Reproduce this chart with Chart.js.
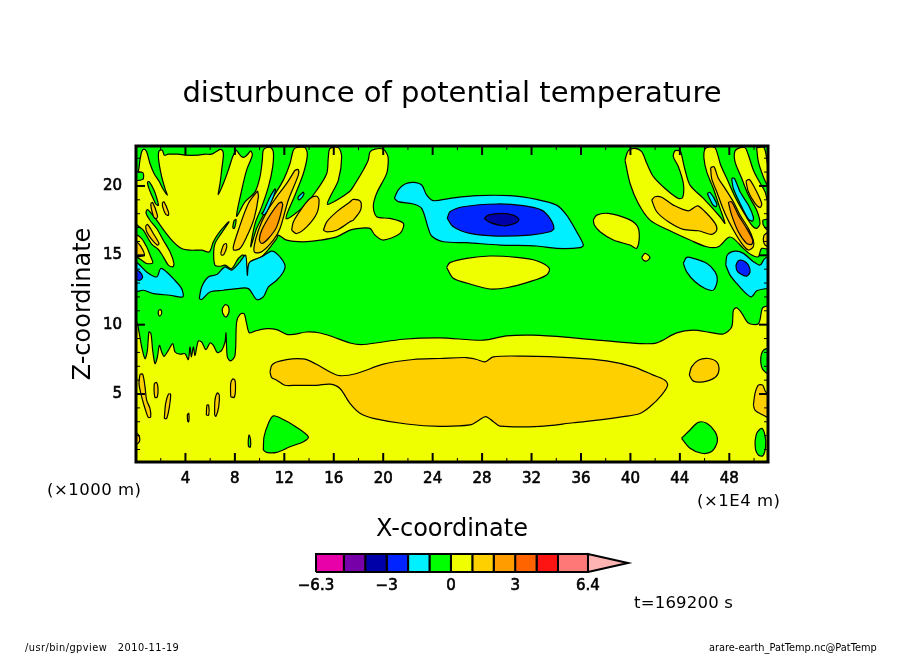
<!DOCTYPE html>
<html>
<head>
  <title>disturbunce of potential temperature</title>
  <script src="https://cdnjs.cloudflare.com/ajax/libs/Chart.js/4.4.1/chart.umd.min.js"></script>
  <style>
    body { margin: 0; background: #fff; }
    #page { position: relative; width: 904px; height: 654px; overflow: hidden; }
    #main { position: absolute; left: 0; top: 0; }
    #bar { position: absolute; left: 0; top: 540px; }
    .note { position: absolute; white-space: pre; font-family: "DejaVu Sans"; color: #000; line-height: 1; }
  </style>
</head>
<body>
<div id="page">
  <canvas id="main" width="904" height="654"></canvas>
  <canvas id="bar" width="904" height="60"></canvas>
  <div class="note" style="left:47px;top:482px;font-size:16.5px;letter-spacing:.5px">(×1000 m)</div>
  <div class="note" style="left:697px;top:493px;font-size:16.5px;letter-spacing:.5px">(×1E4 m)</div>
  <div class="note" style="left:634px;top:595px;font-size:16.5px;letter-spacing:.2px">t=169200 s</div>
  <div class="note" style="left:25px;top:643px;font-size:9.8px;letter-spacing:.45px">/usr/bin/gpview   2010-11-19</div>
  <div class="note" style="left:709px;top:643px;font-size:9.8px">arare-earth_PatTemp.nc@PatTemp</div>
</div>
<script>
// tick values and labels
var xTicks = [4, 8, 12, 16, 20, 24, 28, 32, 36, 40, 44, 48];
var xMinorTicks = [2, 6, 10, 14, 18, 22, 26, 30, 34, 38, 42, 46, 50];
var yTicks = [5, 10, 15, 20];
var yMinorTicks = [1, 2, 3, 4, 6, 7, 8, 9, 11, 12, 13, 14, 16, 17, 18, 19, 21, 22];
var barTicks = [-6.3, -3, 0, 3, 6.4];
var barTickLabels = ['\u22126.3', '\u22123', '0', '3', '6.4'];

// colour levels of the shading
var barLevels = [-6.3, -5, -4, -3, -2, -1, 0, 1, 2, 3, 4, 5, 6.4];
var barColors = ['#e800a8', '#7800a8', '#0000a8', '#0024ff', '#00f0ff', '#00ff00', '#f0ff00', '#ffd000', '#ff9c00', '#ff6400', '#ff1414', '#ff7878'];
var barTip = [[6.4, 0], [8.27, 0.5], [6.4, 1]];

// contours, [x, z] in the axis units
var wholeField = [[-1, -1], [53, -1], [53, 24], [-1, 24]];

var yellowLower = [[-0.5, 10.31], [0, 10.31], [0.27, 9.35], [0.46, 8.39], [0.73, 7.55], [0.92, 8.15], [1.05, 9.47], [1.21, 9.35], [1.35, 8.15], [1.54, 7.19], [1.73, 7.67], [1.89, 8.51], [2.08, 8.03], [2.27, 7.72], [2.62, 8.15], [2.97, 8.63], [3.16, 8.03], [3.56, 7.87], [3.96, 7.91], [4.23, 7.48], [4.37, 8.39], [4.48, 7.67], [4.64, 8.39], [4.77, 7.79], [5.04, 8.82], [5.31, 8.75], [5.66, 8.2], [5.99, 8.68], [6.26, 8.51], [6.58, 7.99], [6.93, 8.15], [7.2, 8.75], [7.28, 9.4], [7.39, 7.67], [7.66, 7.39], [8.01, 7.79], [8.14, 10.19], [8.41, 10.74], [8.74, 10.79], [8.95, 10.07], [9.17, 9.42], [9.63, 9.54], [10.57, 9.71], [11.38, 9.64], [12.19, 9.3], [12.73, 9.3], [13.81, 9.47], [14.89, 9.4], [15.97, 9.11], [17.31, 8.68], [18.39, 8.57], [21.62, 8.95], [24.59, 9.05], [28.1, 8.88], [29.98, 9.19], [32.14, 9.24], [35.38, 9.05], [38.08, 8.83], [40.77, 8.64], [42.12, 8.69], [43.74, 9.41], [45.09, 9.6], [46.4, 9.45], [47.52, 9.33], [48.19, 9.83], [48.33, 11.03], [48.6, 11.22], [49, 10.84], [49.54, 10.12], [50.35, 10.07], [50.62, 11.03], [50.75, 11.27], [51.5, 11.27], [51.5, -0.5], [-0.5, -0.5]];
var yellowUpperLeft = [[-0.5, 21.02], [0, 21.02], [0.19, 21.09], [0.32, 21.86], [0.46, 22.46], [0.65, 22.65], [0.86, 22.46], [1.13, 21.62], [1.46, 20.9], [1.89, 20.3], [2.21, 19.74], [2.54, 19.33], [2.35, 19.81], [2.08, 20.66], [1.89, 21.5], [1.81, 22.1], [1.86, 22.51], [2.13, 22.58], [2.29, 22.22], [2.62, 22.29], [3.43, 22.29], [3.96, 22.22], [5.04, 22.22], [5.58, 22.29], [6.12, 22.29], [6.47, 22.46], [6.8, 22.63], [7.01, 22.53], [7.07, 22.22], [6.93, 21.14], [6.8, 20.18], [6.66, 19.38], [7.07, 20.18], [7.47, 21.14], [7.82, 22.1], [8.09, 22.58], [8.28, 22.39], [8.55, 22.1], [8.82, 22.1], [9.09, 22.34], [9.28, 22.53], [9.41, 22.22], [8.95, 21.14], [8.55, 19.69], [8.14, 17.82], [8.82, 18.85], [9.63, 19.57], [10.03, 20.66], [10.22, 21.86], [10.3, 22.58], [10.57, 22.77], [10.9, 22.77], [11.11, 22.46], [11.06, 21.38], [10.71, 19.93], [10.17, 18.49], [9.63, 17.29], [9.28, 15.61], [9.76, 16.93], [10.3, 17.89], [11.11, 19.21], [11.92, 20.42], [12.46, 21.62], [12.73, 22.58], [13, 22.77], [13.67, 22.77], [13.86, 22.22], [13.54, 20.9], [12.86, 19.33], [12.14, 17.65], [13.54, 18.49], [14.62, 19.69], [15.43, 20.9], [15.56, 22.1], [15.7, 22.7], [16.37, 22.77], [16.64, 22.1], [16.37, 20.42], [15.7, 19.21], [15.48, 18.68], [16.23, 18.97], [17.31, 19.62], [17.58, 19.95], [18.39, 21.15], [18.79, 21.87], [18.93, 22.45], [19.34, 22.66], [19.98, 22.66], [20.31, 22.3], [20.41, 21.87], [20.28, 20.91], [19.47, 19.47], [19.2, 18.52], [19.47, 17.78], [20.55, 17.66], [21.63, 17.3], [21.36, 16.58], [20.01, 16.1], [19.33, 16.46], [18.93, 16.94], [18.12, 16.94], [17.31, 16.82], [16.23, 16.33], [14.89, 16.09], [13.54, 15.97], [12.19, 16.09], [11.52, 16.45], [11.38, 16.21], [10.3, 15.01], [9.36, 14.53], [9.17, 14.41], [9.01, 13.56], [8.9, 13.68], [8.68, 15.01], [8.28, 14.77], [7.74, 14.05], [7.2, 14.29], [6.8, 14.21], [6.39, 14.29], [6.28, 15.13], [6.39, 15.85], [6.8, 16.45], [7.52, 17.41], [7.34, 17.29], [6.66, 16.57], [6.26, 15.97], [5.93, 15.25], [5.31, 15.37], [4.37, 15.37], [3.69, 15.49], [3.02, 15.97], [2.35, 16.69], [1.67, 17.53], [1.13, 18.13], [0.92, 18.3], [0.81, 18.06], [1.13, 17.53], [1.67, 16.93], [2.21, 16.09], [2.75, 15.25], [3.07, 14.41], [2.97, 14.17], [2.62, 14.29], [2.21, 14.89], [1.81, 15.42], [1.27, 15.8], [0.59, 16.81], [0.11, 17.17], [0, 17.29], [-0.5, 17.29]];
var yellowLeftEdge = [[-0.5, 16.5], [0, 16.5], [0.46, 16.21], [0.86, 15.61], [1.19, 14.89], [1.35, 14.45], [0.86, 14.41], [0.46, 14.65], [0, 14.89], [-0.5, 14.89]];
var yellowUpperRight = [[39.56, 21.87], [39.83, 22.54], [40.37, 22.71], [40.91, 22.47], [41.32, 21.63], [41.86, 20.67], [42.8, 19.82], [43.88, 19.1], [44.23, 19.18], [44.28, 20.18], [43.88, 21.39], [43.47, 22.11], [43.61, 22.54], [43.96, 22.54], [44.07, 22.47], [44.42, 21.15], [44.82, 20.06], [45.9, 19.1], [47.25, 17.78], [47.65, 17.3], [47.25, 18.38], [46.71, 19.82], [46.17, 21.03], [45.95, 21.99], [46.03, 22.66], [46.44, 22.83], [46.84, 22.76], [47.03, 22.35], [47.3, 21.51], [47.79, 20.55], [48.46, 19.22], [49.13, 18.14], [49.81, 17.18], [50.21, 16.94], [50.48, 17.3], [50.21, 18.26], [49.54, 19.34], [49, 20.55], [48.46, 21.75], [48.46, 22.52], [48.87, 22.76], [49.27, 22.76], [49.54, 22.23], [49.94, 21.15], [50.35, 20.43], [50.89, 19.58], [51.1, 18.98], [51.5, 18.98], [51.5, 15.43], [50.62, 15.5], [50.35, 14.9], [49.81, 15.02], [49.14, 15.5], [48.33, 16.22], [47.92, 16.29], [47.11, 15.62], [46.17, 15.62], [44.82, 16.1], [43.07, 16.82], [41.59, 17.54], [40.64, 18.74], [39.97, 20.18]];
var yellowFarRight = [[50.21, 22.76], [50.35, 21.75], [50.75, 20.67], [51.1, 20.07], [51.5, 20.07], [51.1, 21.51], [50.81, 22.76]];
var yellowMiddle = [[25.13, 14.13], [25.4, 14.47], [26.75, 14.78], [28.64, 14.95], [30.79, 14.85], [32.41, 14.61], [33.44, 14.06], [33.22, 13.58], [31.87, 13.1], [29.98, 12.66], [28.64, 12.57], [27.02, 12.93], [25.67, 13.34]];
var yellowBlob = [[37, 17.54], [37.27, 17.9], [38.21, 18.02], [39.69, 17.66], [40.5, 17.18], [40.72, 16.46], [40.5, 15.5], [39.96, 15.74], [38.62, 16.1], [37.54, 16.7], [37.08, 17.18]];
var yellowDot = [[40.91, 14.85], [41.18, 15.14], [41.58, 14.85], [41.31, 14.59], [41.04, 14.66]];
var yellowSpotA = [[1.81, 11.03], [2, 11.08], [2.08, 10.84], [1.94, 10.62], [1.81, 10.74]];
var yellowSpotB = [[6.98, 11.15], [7.2, 11.44], [7.47, 11.32], [7.52, 10.91], [7.28, 10.55], [7.01, 10.84]];

var greenStripLeft = [[0.92, 20.3], [1.08, 20.3], [1.46, 19.69], [1.73, 18.97], [1.81, 18.61], [1.62, 18.68], [1.27, 19.33], [1, 19.93]];
var greenBoxLeft = [[-0.5, 20.97], [0.54, 20.97], [0.54, 20.46], [-0.5, 20.46]];
var greenSliver = [[7.82, 17], [7.93, 17.48], [8.09, 17.58], [8.04, 17.17], [7.93, 16.93]];
var greenLowerA = [[10.3, 0.96], [10.36, 1.92], [10.71, 2.88], [11.11, 3.43], [11.92, 3.16], [12.86, 2.68], [13.94, 1.92], [13.54, 1.56], [12.46, 1.2], [11.38, 0.79], [10.57, 0.79]];
var greenLowerB = [[9.1, 1.2], [9.08, 1.6], [9.15, 2.04], [9.27, 1.7], [9.25, 1.18]];
var greenLowerC = [[44.14, 1.81], [44.82, 2.41], [45.49, 2.96], [46.17, 2.89], [46.84, 2.29], [47.03, 1.57], [46.57, 0.85], [45.76, 0.73], [44.82, 1.09]];
var greenLowerD = [[50.08, 1.57], [50.22, 2.17], [50.62, 2.53], [50.88, 2.05], [50.94, 1.21], [50.7, 0.54], [50.35, 0.61], [50.13, 0.97]];
var greenEdgeA = [[51.5, 8.39], [50.75, 8.15], [50.54, 7.43], [50.75, 6.72], [51.5, 6.36]];
var greenEdgeB = [[50.7, 17.54], [51.1, 17.61], [51.5, 17.61], [51.5, 16.89], [51.1, 16.82], [50.75, 17.18]];

var goldBig = [[10.84, 6.59], [10.98, 7.07], [11.38, 7.31], [12.19, 7.48], [13, 7.55], [13.81, 7.48], [14.89, 7], [15.7, 6.59], [16.5, 6.32], [17.85, 6.48], [20.01, 7.15], [22.43, 7.49], [24.59, 7.56], [26.75, 7.63], [27.56, 7.49], [28.23, 7.32], [28.91, 7.68], [31.33, 7.73], [35.38, 7.61], [38.08, 7.39], [40.23, 6.96], [41.85, 6.36], [42.79, 6], [43.01, 5.64], [42.52, 4.92], [41.58, 4.08], [40.77, 3.6], [39.42, 3.37], [37.54, 3.13], [35.38, 2.93], [32.68, 2.67], [29.45, 2.69], [28.91, 3.01], [28.29, 3.37], [27.69, 3.08], [27.02, 2.77], [24.59, 2.67], [21.89, 2.84], [19.2, 3.25], [18.12, 3.61], [17.31, 4.32], [16.5, 5.4], [15.7, 5.71], [14.62, 5.63], [13, 5.63], [12.05, 5.63], [11.38, 6], [10.98, 6.19]];
var goldRightBlob = [[44.76, 6.36], [44.95, 6.96], [45.49, 7.44], [46.3, 7.56], [46.97, 7.32], [47.16, 6.72], [46.84, 6.19], [45.89, 5.88], [45.09, 5.93]];
var goldRightEdge = [[49.95, 4.2], [50.08, 5.04], [50.35, 5.64], [50.7, 5.64], [50.94, 5.16], [51.5, 4.92], [51.5, 3.24], [50.48, 3.6], [50.08, 3.84]];
var goldLowA = [[0.32, 6.43], [0.54, 6.43], [0.73, 5.52], [0.86, 4.56], [1.13, 3.96], [1.19, 3.36], [1, 3.31], [0.73, 3.96], [0.46, 4.8], [0.24, 5.75]];
var goldLowB = [[1.48, 5.75], [1.67, 5.83], [1.78, 5.39], [1.73, 4.8], [1.54, 4.75], [1.46, 5.27]];
var goldLowC = [[2.29, 3.24], [2.4, 4.32], [2.62, 4.99], [2.8, 4.99], [2.7, 4.08], [2.48, 3.24]];
var goldLowD = [[4.15, 3.5], [4.27, 3.6], [4.27, 3], [4.18, 3.05]];
var goldLowE = [[5.69, 3.48], [5.74, 4.2], [5.88, 4.2], [5.88, 3.48]];
var goldLowF = [[6.36, 3.48], [6.39, 4.56], [6.58, 5.08], [6.74, 4.92], [6.69, 4.08], [6.47, 3.4]];
var goldLowG = [[7.66, 4.8], [7.66, 5.75], [7.82, 6.09], [8.01, 5.99], [8.04, 5.16], [7.93, 4.75]];
var goldLowH = [[-0.5, 2.2], [0, 2.2], [0.27, 1.92], [0.27, 1.56], [0, 1.37], [-0.5, 1.37]];
var goldEdgeLeft = [[-0.5, 15.97], [0, 15.97], [0.38, 15.66], [0.65, 15], [-0.5, 15]];
var goldSliverA = [[1.19, 18.73], [1.35, 18.8], [1.73, 17.89], [1.67, 17.65], [1.46, 17.72], [1.24, 18.37]];
var goldSliverB = [[2.13, 18.8], [2.27, 18.85], [2.62, 18.13], [2.62, 17.89], [2.4, 17.96], [2.16, 18.49]];
var goldSliverC = [[0.78, 17.1], [0.94, 17.22], [1.4, 16.57], [1.86, 15.85], [1.73, 15.73], [1.27, 16.14], [0.86, 16.69]];
var goldSliverD = [[6.85, 15.13], [7.07, 15.73], [7.28, 15.85], [7.34, 15.61], [7.12, 15.08], [6.93, 15.01]];
var goldBandA = [[9.84, 19.65], [9.9, 19.21], [9.55, 17.65], [8.95, 16.33], [8.41, 15.49], [7.93, 15.37], [7.87, 15.61], [8.28, 16.81], [9.09, 18.73]];
var goldBandB = [[12.86, 21.14], [12.19, 20.18], [11.38, 19.21], [10.57, 18.13], [9.9, 16.81], [9.55, 15.61], [9.63, 15.2], [10.17, 15.25], [11.11, 16.09], [11.65, 16.93], [12.32, 18.97], [13.13, 20.78], [13.13, 21.18]];
var goldBlobA = [[12.59, 16.81], [12.73, 17.41], [13.4, 18.37], [14.08, 19.09], [14.62, 19.26], [14.81, 18.97], [14.62, 18.01], [13.81, 17.05], [13, 16.57]];
var goldBlobB = [[15.16, 16.81], [15.43, 17.41], [16.23, 18.13], [17.31, 18.85], [17.58, 19.03], [18.17, 18.87], [18.17, 18.26], [17.58, 17.54], [17.31, 17.42], [16.23, 16.81], [15.43, 16.69]];
var goldUpperRight = [[41.72, 18.98], [41.99, 19.22], [42.53, 19.18], [43.47, 18.62], [44.69, 18.21], [45.42, 18.57], [46.04, 18.14], [46.85, 17.3], [46.98, 16.82], [46.58, 16.51], [45.5, 16.77], [44.28, 16.87], [43.07, 17.42], [42.13, 18.14]];
var goldBandC = [[46.49, 21.32], [46.76, 21.39], [47.11, 20.55], [47.65, 19.83], [48.33, 18.86], [48.87, 17.9], [49.54, 16.94], [49.94, 16.1], [49.94, 15.62], [49.54, 15.38], [49, 15.86], [48.33, 16.82], [47.65, 18.02], [46.98, 19.58], [46.57, 20.55]];
var goldBandD = [[49.35, 20.35], [49.62, 20.47], [50.08, 19.82], [50.62, 18.74], [50.48, 18.45], [50.08, 18.74], [49.54, 19.58]];
var goldEdgeRight = [[50.81, 16.46], [51.1, 16.63], [51.5, 16.63], [51.5, 15.55], [50.89, 15.74], [50.75, 16.1]];

var orangeLeft = [[11.79, 18.85], [11.87, 18.61], [11.38, 17.05], [10.71, 16.21], [10.17, 15.85], [9.98, 16.14], [10.17, 16.81], [10.84, 17.89], [11.52, 18.73]];
var orangeRight = [[47.92, 18.82], [48.19, 18.86], [48.73, 17.9], [49.4, 16.94], [49.89, 16.1], [49.81, 15.79], [49.4, 15.86], [48.73, 16.7], [48.19, 17.9]];

var cyanLeft = [[-0.5, 14.53], [0, 14.53], [0.86, 13.8], [1.67, 13.44], [2, 14.05], [2.48, 13.8], [3.02, 13.32], [3.69, 12.6], [3.78, 12], [2.75, 12.12], [1.4, 12.24], [0.59, 12.48], [0, 12.36], [-0.5, 12.36]];
var cyanSecond = [[5.12, 11.88], [5.31, 12.72], [5.85, 13.44], [6.53, 13.61], [7.2, 14.17], [7.74, 13.93], [8.41, 14.53], [8.87, 15.01], [9.01, 13.56], [9.17, 14.48], [10.17, 14.89], [10.98, 15.3], [11.52, 15.01], [12.05, 14.29], [11.92, 13.8], [11.38, 13.2], [10.71, 12.72], [10.3, 12], [9.76, 11.81], [9.09, 12.6], [8.14, 12.6], [7.07, 12.48], [5.99, 12.36], [5.31, 11.81]];
var cyanSliverA = [[11.25, 19.81], [10.84, 19.21], [10.3, 18.13], [10.17, 18.01], [10.44, 17.96], [10.84, 18.61], [11.3, 19.69]];
var cyanSliverB = [[13.54, 19.57], [13.13, 19.21], [13.13, 19.02], [13.27, 19.02], [13.59, 19.41]];
var cyanCentre = [[20.9, 19.11], [21.22, 19.71], [21.76, 20.14], [22.43, 20.26], [23.11, 20.07], [23.51, 19.35], [24.05, 18.94], [25.4, 19.11], [27.56, 19.3], [30.26, 19.3], [32.41, 19.03], [34.03, 18.62], [34.84, 17.9], [35.65, 16.7], [36.19, 15.74], [35.92, 15.55], [34.03, 15.5], [32.41, 15.67], [29.45, 15.74], [26.75, 15.91], [24.86, 15.98], [23.92, 16.39], [23.65, 16.94], [23.11, 18.38], [22.43, 18.7], [21.22, 18.87]];
var cyanRightA = [[44.28, 14.42], [44.55, 14.85], [45.09, 14.78], [46.17, 14.42], [46.85, 13.81], [47.03, 13.21], [46.71, 12.49], [46.04, 12.61], [45.23, 13.09], [44.55, 13.81]];
var cyanRightB = [[47.71, 14.3], [47.84, 15.02], [48.46, 15.3], [49.14, 15.14], [49.95, 14.54], [50.49, 14.3], [50.81, 14.7], [51.08, 14.9], [51.5, 14.9], [51.5, 12.7], [51.03, 12.61], [50.22, 12.44], [49.81, 12.01], [49.41, 12.2], [48.6, 12.97], [48.06, 13.57]];
var cyanSliverC = [[48.19, 20.55], [48.41, 20.55], [48.87, 19.58], [49.54, 18.62], [49.94, 17.78], [49.89, 17.47], [49.54, 17.61], [48.87, 18.74], [48.33, 19.82]];
var cyanSliverD = [[46.22, 19.46], [46.44, 19.54], [46.98, 18.74], [46.92, 18.5], [46.65, 18.67]];

var blueLeft = [[-0.5, 13.93], [0, 13.93], [0.32, 13.8], [0.54, 13.44], [0.32, 13.2], [0, 13.25], [-0.5, 13.25]];
var blueCentre = [[25.18, 17.66], [25.4, 18.14], [26.48, 18.5], [29.18, 18.7], [31.33, 18.58], [32.82, 18.26], [33.49, 17.66], [33.81, 16.94], [33.49, 16.7], [31.87, 16.46], [29.18, 16.39], [27.02, 16.58], [25.67, 17.06]];
var blueRight = [[48.54, 14.3], [48.73, 14.61], [49.14, 14.61], [49.54, 14.3], [49.68, 13.81], [49.41, 13.5], [48.92, 13.65], [48.6, 13.93]];
var navyCentre = [[28.18, 17.66], [28.5, 17.9], [29.58, 18.02], [30.52, 17.9], [30.98, 17.59], [30.66, 17.3], [29.72, 17.13], [28.64, 17.37]];

var greenColor = barColors[5], yellowColor = barColors[6], goldColor = barColors[7], orangeColor = barColors[8];
var cyanColor = barColors[4], blueColor = barColors[3], navyColor = barColors[2];

// painted in this order, later ones on top
var contourLayers = [
  [greenColor, [wholeField]],
  [yellowColor, [yellowLower, yellowUpperLeft, yellowLeftEdge, yellowUpperRight, yellowFarRight, yellowMiddle, yellowBlob, yellowDot, yellowSpotA, yellowSpotB]],
  [greenColor, [greenStripLeft, greenBoxLeft, greenSliver, greenLowerA, greenLowerB, greenLowerC, greenLowerD, greenEdgeA, greenEdgeB]],
  [goldColor, [goldBig, goldRightBlob, goldRightEdge, goldLowA, goldLowB, goldLowC, goldLowD, goldLowE, goldLowF, goldLowG, goldLowH, goldEdgeLeft, goldSliverA, goldSliverB, goldSliverC, goldSliverD, goldBandA, goldBandB, goldBlobA, goldBlobB, goldUpperRight, goldBandC, goldBandD, goldEdgeRight]],
  [orangeColor, [orangeLeft, orangeRight]],
  [cyanColor, [cyanLeft, cyanSecond, cyanSliverA, cyanSliverB, cyanCentre, cyanRightA, cyanRightB, cyanSliverC, cyanSliverD]],
  [blueColor, [blueLeft, blueCentre, blueRight]],
  [navyColor, [navyCentre]]
];

function polygonDataset(points, color, lineWidth, curve) {
  var closed = points.concat([points[0]]);
  return {
    data: closed.map(function (p) { return { x: p[0], y: p[1] }; }),
    showLine: true,
    fill: 'shape',
    backgroundColor: color,
    borderColor: '#000',
    borderWidth: lineWidth,
    pointRadius: 0,
    tension: curve
  };
}

var fieldDatasets = [];
contourLayers.forEach(function (layer) {
  layer[1].forEach(function (points) {
    fieldDatasets.push(polygonDataset(points, layer[0], 1.2, points === wholeField ? 0 : 0.3));
  });
});
// chart.js paints the first dataset last
fieldDatasets.reverse();

// inward ticks on all sides and the frame, after the shading
var frameTicks = {
  id: 'frameTicks',
  afterDatasetsDraw: function (chart) {
    var ctx = chart.ctx, area = chart.chartArea;
    var sx = chart.scales.x, sy = chart.scales.y;
    function tick(x1, y1, x2, y2, w) {
      ctx.lineWidth = w;
      ctx.beginPath();
      ctx.moveTo(x1, y1);
      ctx.lineTo(x2, y2);
      ctx.stroke();
    }
    ctx.save();
    ctx.strokeStyle = '#000';
    xMinorTicks.forEach(function (v) {
      var p = sx.getPixelForValue(v);
      tick(p, area.bottom, p, area.bottom - 4, 1);
      tick(p, area.top, p, area.top + 4, 1);
    });
    xTicks.forEach(function (v) {
      var p = sx.getPixelForValue(v);
      tick(p, area.bottom, p, area.bottom - 9, 2);
      tick(p, area.top, p, area.top + 9, 2);
    });
    yMinorTicks.forEach(function (v) {
      var p = sy.getPixelForValue(v);
      tick(area.left, p, area.left + 4, p, 1);
      tick(area.right, p, area.right - 4, p, 1);
    });
    yTicks.forEach(function (v) {
      var p = sy.getPixelForValue(v);
      tick(area.left, p, area.left + 9, p, 2);
      tick(area.right, p, area.right - 9, p, 2);
    });
    ctx.lineWidth = 3;
    ctx.strokeRect(area.left, area.top, area.right - area.left, area.bottom - area.top);
    ctx.restore();
  }
};

// tick labels in the heavy look of the original
var tickFont = { family: 'DejaVu Sans', size: 15 };

new Chart(document.getElementById('main'), {
  type: 'scatter',
  data: { datasets: fieldDatasets },
  plugins: [frameTicks],
  options: {
    responsive: false,
    animation: false,
    events: [],
    layout: { padding: { left: 0, top: 0, right: 0, bottom: 110 } },
    plugins: {
      legend: { display: false },
      tooltip: { enabled: false },
      title: {
        display: true,
        text: 'disturbunce of potential temperature',
        color: '#000',
        font: { family: 'DejaVu Sans', size: 29, weight: 'normal', lineHeight: 1 },
        padding: { top: 80, bottom: 37 }
      }
    },
    scales: {
      x: {
        type: 'linear',
        min: 0,
        max: 51.13,
        grid: { display: false, drawTicks: false },
        border: { display: false },
        afterBuildTicks: function (scale) {
          scale.ticks = xTicks.map(function (v) { return { value: v }; });
        },
        afterFit: function (scale) { scale.height = 82; },
        ticks: { autoSkip: false, maxRotation: 0, padding: 8, color: '#000', textStrokeColor: '#000', textStrokeWidth: 0.6, font: tickFont },
        title: { display: true, text: 'X-coordinate', color: '#000', font: { family: 'DejaVu Sans', size: 24, weight: 'normal' }, padding: { top: 0, bottom: 0 } }
      },
      y: {
        type: 'linear',
        min: 0.1,
        max: 22.88,
        grid: { display: false, drawTicks: false },
        border: { display: false },
        afterBuildTicks: function (scale) {
          scale.ticks = yTicks.map(function (v) { return { value: v }; });
        },
        afterFit: function (scale) { scale.width = 136; },
        ticks: { autoSkip: false, padding: 14, color: '#000', textStrokeColor: '#000', textStrokeWidth: 0.6, font: tickFont },
        title: { display: true, text: 'Z-coordinate', color: '#000', font: { family: 'DejaVu Sans', size: 24, weight: 'normal' }, padding: { top: 69, bottom: 0 } }
      },
      // empty axis so the title centres over the plot
      rightMargin: {
        type: 'linear',
        position: 'right',
        grid: { display: false, drawTicks: false },
        border: { display: false },
        ticks: { display: false },
        afterFit: function (scale) { scale.width = 136; }
      }
    }
  }
});

// colour bar, one box per level
var barDatasets = [];
barColors.forEach(function (c, i) {
  var lo = barLevels[i], hi = barLevels[i + 1];
  barDatasets.push(polygonDataset([[lo, 0], [hi, 0], [hi, 1], [lo, 1]], c, 2, 0));
});
barDatasets.push(polygonDataset(barTip, '#ffb4b4', 2, 0));

new Chart(document.getElementById('bar'), {
  type: 'scatter',
  data: { datasets: barDatasets },
  options: {
    responsive: false,
    animation: false,
    events: [],
    clip: false,
    layout: { padding: { left: 316, right: 276, top: 14, bottom: 0 } },
    plugins: { legend: { display: false }, tooltip: { enabled: false } },
    scales: {
      x: {
        type: 'linear',
        min: -6.3,
        max: 8.27,
        grid: { display: false, drawTicks: false },
        border: { display: false },
        afterBuildTicks: function (scale) {
          scale.ticks = barTicks.map(function (v) { return { value: v }; });
        },
        afterFit: function (scale) { scale.height = 28; },
        ticks: {
          autoSkip: false,
          maxRotation: 0,
          padding: 5,
          color: '#000',
          textStrokeColor: '#000',
          textStrokeWidth: 0.6,
          font: tickFont,
          callback: function (v) { return barTickLabels[barTicks.indexOf(v)]; }
        }
      },
      y: { type: 'linear', min: 0, max: 1, display: false }
    }
  }
});
</script>
</body>
</html>
